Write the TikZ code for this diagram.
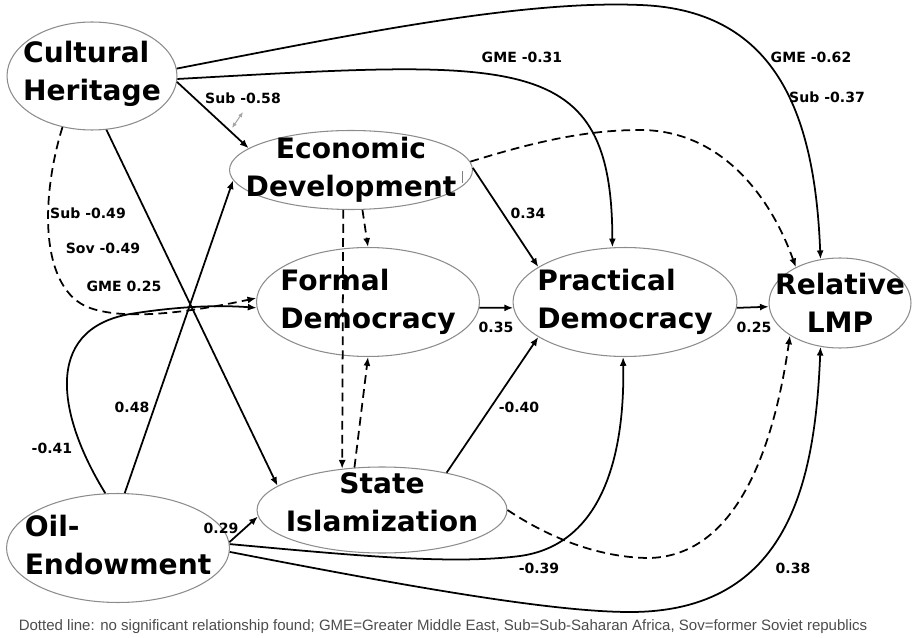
\documentclass[tikz,border=0pt]{standalone}
\usepackage{fontspec}
\setmainfont{DejaVu Sans}
\newfontfamily\notefont{Liberation Sans}
\usetikzlibrary{arrows.meta,shapes.geometric}

\begin{document}
\begin{tikzpicture}[x=0.02cm,y=-0.02cm,>={Latex[length=5pt,width=4pt]},
  var/.style={ellipse,draw=black!45,line width=.6pt,inner sep=0pt},
  vartext/.style={font=\fontsize{16}{21.5}\selectfont\bfseries,align=center,inner sep=0pt},
  coef/.style={font=\fontsize{8}{9}\selectfont\bfseries,inner sep=0pt},
  eff/.style={line width=1pt,->},
  nsig/.style={eff,dash pattern=on 5pt off 3pt}]
\useasboundingbox (0,0) rectangle (912,638);

% latent variables
\node[var,minimum width=3.4cm,minimum height=2.16cm,
  label={[vartext,align=left,yshift=.05cm]center:{Cultural\\Heritage}}] (ch) at (92,76) {};
\node[var,minimum width=4.86cm,minimum height=1.58cm,
  label={[vartext]center:{Economic\\Development}}] (ed) at (351,170) {};
\node[var,minimum width=4.46cm,minimum height=2.18cm,
  label={[vartext,align=left]center:{Formal\\Democracy}}] (fd) at (368,302) {};
\node[var,minimum width=4.48cm,minimum height=2.18cm,
  label={[vartext,align=left]center:{Practical\\Democracy}}] (pd) at (625,302) {};
\node[var,minimum width=2.84cm,minimum height=1.8cm,
  label={[vartext]center:{Relative\\LMP}}] (lmp) at (840,303) {};
\node[var,minimum width=5cm,minimum height=1.72cm,
  label={[vartext,yshift=.16cm]center:{State\\Islamization}}] (si) at (382,510) {};
\node[var,minimum width=4.46cm,minimum height=2.18cm,
  label={[vartext,align=left,yshift=.06cm]center:{Oil-\\Endowment}}] (oil) at (118,548) {};

% paths out of cultural heritage
\draw[eff] (ch.-4) -- (ed.168);
\draw[eff] (ch.-2) .. controls (520,60) and (612,50) .. (pd.103);
\draw[eff] (ch.5) .. controls (350,35) and (520,0) .. (640,5)
  .. controls (780,10) and (815,120) .. (lmp.114);
\draw[eff] (ch.-75) -- (si.167);
\draw[nsig] (ch.-120) .. controls (40,200) and (40,290) .. (90,308)
  .. controls (130,322) and (200,310) .. (fd.178);

% paths out of oil endowment
\draw[eff] (oil.103) .. controls (60,420) and (40,330) .. (130,314)
  .. controls (180,306) and (220,305) .. (fd.183);
\draw[eff] (oil.83) -- (ed.185);
\draw[eff] (oil.3) -- (si.183);
\draw[eff] (oil.2) .. controls (350,555) and (450,565) .. (520,556)
  .. controls (600,545) and (625,460) .. (pd.-92);
\draw[eff] (oil.-2) .. controls (400,585) and (550,612) .. (630,612)
  .. controls (790,612) and (815,480) .. (lmp.-114);

% the middle block
\draw[nsig] (ed.-74) -- (fd.90);
\draw[nsig] (ed.-101) -- (si.134);
\draw[nsig] (si.123) -- (fd.-90);
\draw[eff] (ed.1) -- (pd.158);
\draw[nsig] (ed.4) .. controls (540,140) and (590,130) .. (640,130)
  .. controls (720,130) and (770,195) .. (lmp.141);
\draw[eff] (fd.-3) -- (pd.183);
\draw[eff] (pd.-3) -- (lmp.183);
\draw[eff] (si.30) -- (pd.202);
\draw[nsig] (si.0) .. controls (560,545) and (610,558) .. (650,558)
  .. controls (740,555) and (775,440) .. (lmp.213);

% stray marks
\draw[black!35,line width=.6pt,{Latex[length=3pt,width=2.5pt]}-{Latex[length=3pt,width=2.5pt]}] (232,128) -- (243,112);
\draw[black!50,line width=.5pt] (462,171) -- (462,183);

% coefficients
\node[coef] (c-ched) at (243,98) {Sub -0.58};
\node[coef] (c-chpd) at (522,57) {GME -0.31};
\node[coef] (c-chlmp1) at (811,57) {GME -0.62};
\node[coef] (c-chlmp2) at (827,97) {Sub -0.37};
\node[coef] (c-chfd1) at (88,213) {Sub -0.49};
\node[coef] (c-chfd2) at (103,248) {Sov -0.49};
\node[coef] (c-chfd3) at (124,286) {GME 0.25};
\node[coef] (c-edpd) at (528,213) {0.34};
\node[coef] (c-fdpd) at (496,327) {0.35};
\node[coef] (c-pdlmp) at (754,327) {0.25};
\node[coef] (c-sipd) at (519,407) {-0.40};
\node[coef] (c-oilpd) at (539,568) {-0.39};
\node[coef] (c-oillmp) at (793,568) {0.38};
\node[coef] (c-oiled) at (132,407) {0.48};
\node[coef] (c-oilfd) at (52,448) {-0.41};
\node[coef] (c-oilsi) at (221,528) {0.29};

\node[font=\notefont\fontsize{8.55}{9.5}\selectfont,text=black!70,inner sep=0pt] (note) at (443,627)
  {Dotted line: no significant relationship found; GME=Greater Middle East, Sub=Sub-Saharan Africa, Sov=former Soviet republics};
\end{tikzpicture}
\end{document}
